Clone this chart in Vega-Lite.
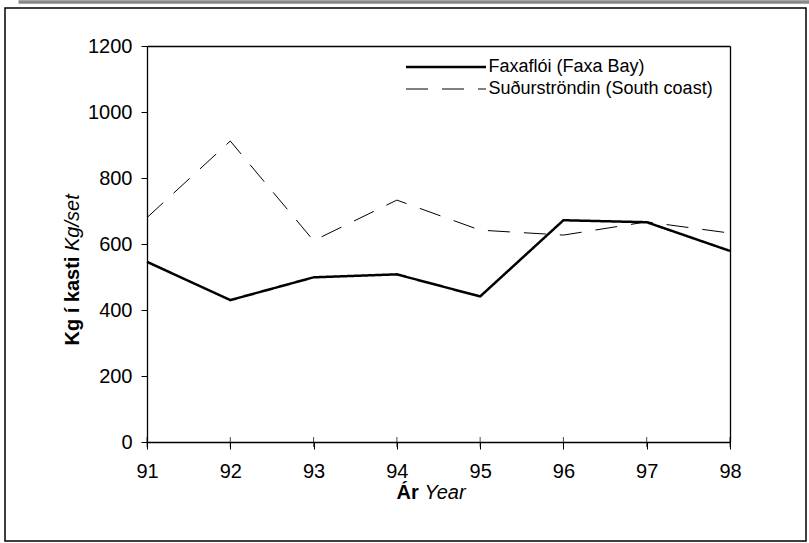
{
  "$schema": "https://vega.github.io/schema/vega-lite/v6.json",
  "width": 801,
  "height": 533,
  "autosize": {"type": "none"},
  "padding": {"left": 5, "top": 8, "right": 3, "bottom": 2},
  "background": "white",
  "config": {
    "view": {"stroke": "black", "strokeWidth": 1.5},
    "font": "Liberation Sans",
    "axis": {
      "labelFont": "Liberation Sans",
      "titleFont": "Liberation Sans",
      "labelFontSize": 20,
      "titleFontSize": 20,
      "labelColor": "black",
      "titleColor": "black",
      "domainColor": "black",
      "tickColor": "black",
      "domainWidth": 1.3,
      "tickWidth": 1,
      "grid": false,
      "labelFlush": false,
      "labelOverlap": false
    }
  },
  "data": {
    "values": [
      {"year": 91, "value": 546, "series": "Faxaflói (Faxa Bay)"},
      {"year": 92, "value": 430, "series": "Faxaflói (Faxa Bay)"},
      {"year": 93, "value": 499, "series": "Faxaflói (Faxa Bay)"},
      {"year": 94, "value": 508, "series": "Faxaflói (Faxa Bay)"},
      {"year": 95, "value": 441, "series": "Faxaflói (Faxa Bay)"},
      {"year": 96, "value": 672, "series": "Faxaflói (Faxa Bay)"},
      {"year": 97, "value": 666, "series": "Faxaflói (Faxa Bay)"},
      {"year": 98, "value": 579, "series": "Faxaflói (Faxa Bay)"},
      {"year": 91, "value": 680, "series": "Suðurströndin (South coast)"},
      {"year": 92, "value": 912, "series": "Suðurströndin (South coast)"},
      {"year": 93, "value": 610, "series": "Suðurströndin (South coast)"},
      {"year": 94, "value": 733, "series": "Suðurströndin (South coast)"},
      {"year": 95, "value": 642, "series": "Suðurströndin (South coast)"},
      {"year": 96, "value": 627, "series": "Suðurströndin (South coast)"},
      {"year": 97, "value": 667, "series": "Suðurströndin (South coast)"},
      {"year": 98, "value": 633, "series": "Suðurströndin (South coast)"}
    ]
  },
  "resolve": {
    "scale": {"x": "independent"},
    "axis": {"x": "independent", "y": "independent"}
  },
  "layer": [
    {
      "mark": {"type": "line", "color": "black", "strokeJoin": "miter"},
      "encoding": {
        "x": {
          "field": "year",
          "type": "quantitative",
          "scale": {"domain": [91, 98], "range": [142, 725], "nice": false, "zero": false},
          "axis": {
            "orient": "bottom",
            "offset": -99,
            "values": [91, 92, 93, 94, 95, 96, 97, 98],
            "format": "d",
            "tickSize": 7,
            "labelPadding": 12,
            "title": "Ár",
            "titleFontWeight": "bold",
            "titleAlign": "left",
            "titleBaseline": "middle",
            "titleAngle": 0,
            "titleX": 391,
            "titleY": 50
          }
        },
        "y": {
          "field": "value",
          "type": "quantitative",
          "scale": {"domain": [0, 1200], "range": [434, 38], "nice": false, "zero": true},
          "axis": {
            "orient": "left",
            "offset": -142,
            "values": [0, 200, 400, 600, 800, 1000, 1200],
            "format": "d",
            "tickSize": 6,
            "labelPadding": 9,
            "title": "Kg í kasti",
            "titleFontWeight": "bold",
            "titleAngle": -90,
            "titleAlign": "left",
            "titleBaseline": "middle",
            "titleX": -75,
            "titleY": 337
          }
        },
        "strokeDash": {
          "field": "series",
          "type": "nominal",
          "scale": {
            "domain": ["Faxaflói (Faxa Bay)", "Suðurströndin (South coast)"],
            "range": [[1, 0], [22, 14]]
          },
          "legend": {
            "title": null,
            "orient": "none",
            "legendX": 399.5,
            "legendY": 48,
            "symbolType": "stroke",
            "symbolSize": 6400,
            "symbolStrokeColor": "black",
            "clipHeight": 22,
            "rowPadding": 0,
            "padding": 0,
            "labelOffset": 1,
            "labelFont": "Liberation Sans",
            "labelFontSize": 18,
            "labelColor": "black",
            "labelLimit": 400,
            "encode": {
              "symbols": {
                "update": {
                  "strokeDash": {"signal": "datum.value === 'Faxaflói (Faxa Bay)' ? [1, 0] : [20, 21]"},
                  "strokeWidth": {"signal": "datum.value === 'Faxaflói (Faxa Bay)' ? 2.5 : 1"},
                  "stroke": {"value": "black"}
                }
              }
            }
          }
        },
        "strokeWidth": {
          "field": "series",
          "type": "ordinal",
          "scale": {
            "domain": ["Faxaflói (Faxa Bay)", "Suðurströndin (South coast)"],
            "range": [2.5, 1]
          },
          "legend": null
        }
      }
    },
    {
      "transform": [{"filter": "datum.series === 'Faxaflói (Faxa Bay)'"}],
      "mark": {"type": "tick", "orient": "vertical", "color": "black", "size": 10, "thickness": 1},
      "encoding": {
        "x": {
          "field": "year",
          "type": "quantitative",
          "scale": {"domain": [91, 98], "range": [142, 725], "nice": false, "zero": false},
          "axis": {
            "orient": "top",
            "offset": -38,
            "labels": false,
            "ticks": false,
            "title": "Year",
            "titleFontWeight": "normal",
            "titleFontStyle": "italic",
            "titleAlign": "left",
            "titleBaseline": "middle",
            "titleAngle": 0,
            "titleX": 419,
            "titleY": 446
          }
        },
        "y": {
          "datum": 0,
          "type": "quantitative",
          "axis": {
            "orient": "right",
            "offset": -76,
            "labels": false,
            "ticks": false,
            "title": "Kg/set",
            "titleFontWeight": "normal",
            "titleFontStyle": "italic",
            "titleAngle": -90,
            "titleAlign": "left",
            "titleBaseline": "middle",
            "titleX": -658,
            "titleY": 242.5
          }
        }
      }
    },
    {
      "transform": [{"filter": "datum.series === 'Faxaflói (Faxa Bay)'"}],
      "mark": {"type": "point", "opacity": 0},
      "encoding": {
        "x": {
          "field": "year",
          "type": "quantitative",
          "scale": {"domain": [91, 98], "range": [13, 810], "nice": false, "zero": false},
          "axis": {
            "orient": "top",
            "offset": 6.5,
            "labels": false,
            "ticks": false,
            "title": null,
            "domainColor": "#888888",
            "domainWidth": 3.5
          }
        }
      }
    }
  ]
}
